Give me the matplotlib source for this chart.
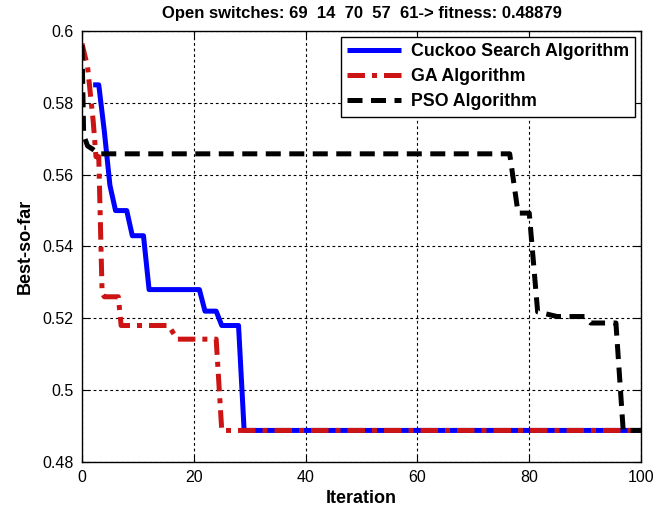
import matplotlib
matplotlib.use("Agg")
import matplotlib.pyplot as plt

plt.rcParams['font.family'] = ['Liberation Sans', 'DejaVu Sans']

# breakpoints of the best-so-far curves (iteration, fitness)
cs_iter = [2, 3, 4, 5, 6, 8, 9, 11, 12, 21, 22, 24, 25, 28, 29, 100]
cs_best = [0.585, 0.585, 0.572, 0.557, 0.550, 0.550, 0.543, 0.543, 0.528, 0.528,
           0.522, 0.522, 0.518, 0.518, 0.48879, 0.48879]

ga_iter = [0, 1, 2, 2.5, 3, 3.6, 4, 6.5, 7, 15.5, 17, 24, 25, 100]
ga_best = [0.5965, 0.590, 0.575, 0.565, 0.565, 0.527, 0.526, 0.526, 0.518, 0.518,
           0.5142, 0.5142, 0.48879, 0.48879]

pso_iter = [0, 0.3, 1, 2, 3, 76.5, 78, 80, 81.5, 85, 90, 91, 95.5, 96.8, 100]
pso_best = [0.596, 0.571, 0.568, 0.567, 0.5658, 0.5658, 0.5493, 0.5493, 0.5218,
            0.5205, 0.5205, 0.5187, 0.5187, 0.48879, 0.48879]

open_switches = [69, 14, 70, 57, 61]
fitness = 0.48879

fig = plt.figure(figsize=(6.72, 5.13), dpi=100)
ax = fig.add_axes([0.122, 0.0994, 0.832, 0.8402])

ax.plot(cs_iter, cs_best, color='#0000ff', lw=3.6, solid_capstyle='butt',
        label='Cuckoo Search Algorithm')
ax.plot(ga_iter, ga_best, color='#cc1414', lw=3.6, dashes=(3.5, 1.4, 1.0, 1.4),
        label='GA Algorithm')
ax.plot(pso_iter, pso_best, color='black', lw=3.6, dashes=(3.0, 1.7),
        label='PSO Algorithm')

ax.set_xlim(0, 100)
ax.set_ylim(0.48, 0.6)
ax.set_xticks([0, 20, 40, 60, 80, 100])
ax.set_yticks([0.48, 0.5, 0.52, 0.54, 0.56, 0.58, 0.6])
ax.set_yticklabels(['0.48', '0.5', '0.52', '0.54', '0.56', '0.58', '0.6'])
ax.tick_params(direction='in', top=True, right=True, length=5, width=0.8,
               labelsize=11.5, pad=6)
ax.grid(True, color='black', lw=0.8, linestyle=(0, (2.5, 2.5)))
for s in ax.spines.values():
    s.set_linewidth(1.0)

title = 'Open switches: ' + '  '.join(str(s) for s in open_switches) + \
        '-> fitness: ' + str(fitness)
ax.set_title(title, fontsize=12, fontweight='bold', pad=9)
ax.set_xlabel('Iteration', fontsize=13, fontweight='bold', labelpad=3)
ax.set_ylabel('Best-so-far', fontsize=13, fontweight='bold', labelpad=6)

leg = ax.legend(loc='upper right', prop={'weight': 'bold', 'size': 12.8},
                fancybox=False, framealpha=1, edgecolor='black',
                borderaxespad=0.35, handlelength=3.0, handletextpad=0.55,
                labelspacing=0.45, borderpad=0.35)
leg.get_frame().set_linewidth(1.0)

fig.savefig('out.png', dpi=100)
